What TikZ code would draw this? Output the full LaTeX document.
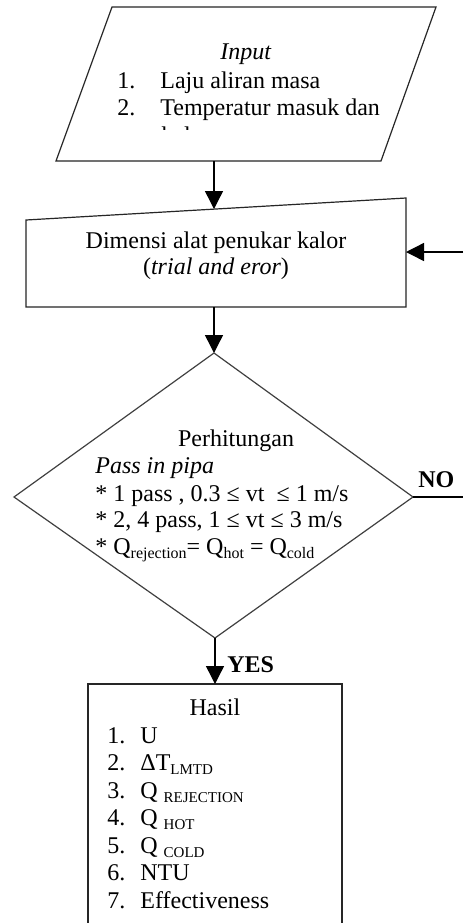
\documentclass[tikz,border=0pt]{standalone}
\usepackage{fontspec}
\setmainfont{Liberation Serif}
\usetikzlibrary{arrows.meta}
\newcommand{\sbs}[1]{\raisebox{-0.4ex}{\fontsize{8pt}{8pt}\selectfont #1}}
\newcommand{\sbsc}[1]{\raisebox{-0.4ex}{\fontsize{7.5pt}{8pt}\selectfont #1}}
\begin{document}
\begin{tikzpicture}[x=0.5pt,y=-0.5pt,
  shp/.style={draw=black!85, line width=0.6pt},
  conn/.style={line width=0.7pt, -{Triangle[width=9pt,length=9pt]}},
  plain/.style={line width=0.7pt},
  txt/.style={font=\fontsize{12pt}{13.5pt}\selectfont, inner sep=0pt, anchor=base west},
  ctxt/.style={txt, anchor=base}]
\useasboundingbox (0,0) rectangle (463,923);
\clip (0,0) rectangle (463,923);
\fill[white] (0,0) rectangle (463,923);
% shapes
\draw[shp] (112,7) -- (436,7) -- (381,161) -- (56,161) -- cycle;
\draw[shp] (26,220) -- (406,198) -- (406,307) -- (26,307) -- cycle;
\draw[shp, draw=black!75] (214,353) -- (413,497) -- (215,638) -- (14,497) -- cycle;
\draw[shp] (88,940) -- (88,684) -- (342,684) -- (342,940);
% connector coordinates
\coordinate (inB) at (214,161);
\coordinate (dimT) at (214,209);
\coordinate (dimR) at (406,252);
\coordinate (fbIn) at (463,252);
\coordinate (dimB) at (214,307);
\coordinate (decT) at (214,353);
\coordinate (decR) at (413,497);
\coordinate (noOut) at (463,497);
\coordinate (decB) at (215,638);
\coordinate (resT) at (215,684);
\draw[conn] (inB) -- (dimT);
\draw[conn] (fbIn) -- (dimR);
\draw[conn] (dimB) -- (decT);
\draw[plain] (decR) -- (noOut);
\draw[conn] (decB) -- (resT);
% input texts
\node[ctxt] (tin) at (246,59) {\textit{Input}};
\node[txt] (n1) at (117,88) {1.};
\node[txt] (t1) at (160,88) {Laju aliran masa};
\node[txt] (n2) at (117,115) {2.};
\node[txt] (t2) at (160,115) {Temperatur masuk dan};
\begin{scope}
\clip (150,120) rectangle (250,129.5);
\node[txt] (t3) at (161,143) {keluar};
\end{scope}
% dimensi
\node[ctxt] (td1) at (216,248) {Dimensi alat penukar kalor};
\node[ctxt] (td2) at (216,274) {(\textit{trial and eror})};
% decision
\node[ctxt] (tp) at (236,446) {Perhitungan};
\node[txt] (tp1) at (95,473) {\textit{Pass in pipa}};
\node[txt] (tp2) at (95,501) {* 1 pass , 0.3 ≤ vt\ \ ≤ 1 m/s};
\node[txt] (tp3) at (95,527) {* 2, 4 pass, 1 ≤ vt ≤ 3 m/s};
\node[txt] (tp4) at (95,554) {* Q\sbs{rejection}= Q\sbs{hot} = Q\sbs{cold}};
\node[txt] (tno) at (418,487) {\textbf{NO}};
\node[txt] (tyes) at (227,672) {\textbf{YES}};
% results
\node[ctxt] (th) at (215,715) {Hasil};
\node[txt] (h1n) at (107,743) {1.};   \node[txt] (h1) at (140,743) {U};
\node[txt] (h2n) at (107,770.5) {2.}; \node[txt] (h2) at (140,770.5) {ΔT\sbsc{LMTD}};
\node[txt] (h3n) at (107,798) {3.};   \node[txt] (h3) at (140,798) {Q \sbsc{REJECTION}};
\node[txt] (h4n) at (107,825.5) {4.}; \node[txt] (h4) at (140,825.5) {Q \sbsc{HOT}};
\node[txt] (h5n) at (107,853) {5.};   \node[txt] (h5) at (140,853) {Q \sbsc{COLD}};
\node[txt] (h6n) at (107,880.5) {6.}; \node[txt] (h6) at (140,880.5) {NTU};
\node[txt] (h7n) at (107,908) {7.};   \node[txt] (h7) at (140,908) {Effectiveness};
\end{tikzpicture}
\end{document}
